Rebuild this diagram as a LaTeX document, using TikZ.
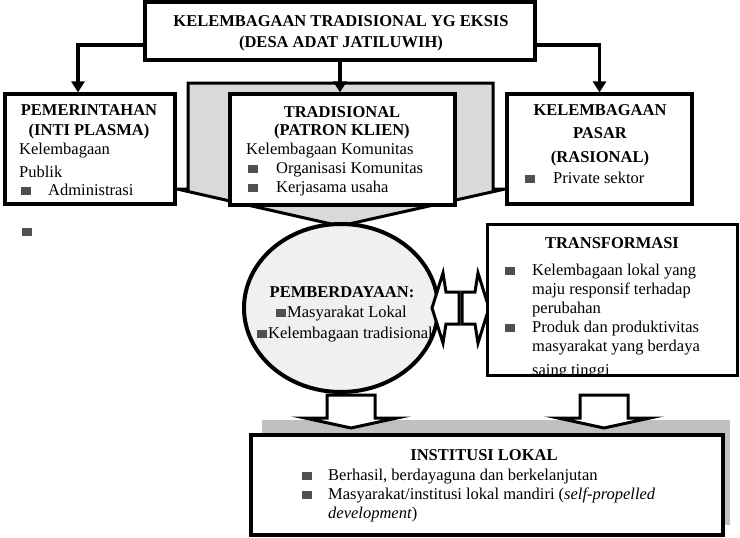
\documentclass[tikz,border=0pt]{standalone}
\usepackage{fontspec}
\setmainfont{Liberation Serif}
\usetikzlibrary{arrows.meta,shapes.geometric}
\definecolor{funnelgray}{HTML}{D9D9D9}
\definecolor{ellfill}{HTML}{F0F0F0}
\definecolor{shadowgray}{HTML}{C0C0C0}
\definecolor{bulletgray}{HTML}{505050}
\newcommand\blt{\textcolor{bulletgray}{\rule{9.5pt}{8pt}}}
\newcommand\Tl[4]{\node[txt,anchor=base west] (#1) at (#2,#3) {#4};}
\newcommand\Tc[4]{\node[txt,anchor=base] (#1) at (#2,#3) {#4};}
\begin{document}
\begin{tikzpicture}[x=1pt,y=-1pt,
  txt/.style={inner sep=0pt,font=\fontsize{16.5}{19}\selectfont},
  box/.style={draw,line width=3.2pt,fill=white,rectangle,inner sep=0pt},
  conn/.style={line width=3.5pt,-{Triangle[width=13pt,length=11pt]}},
  blockarrow/.style={draw,line width=3pt,fill=white,line join=miter}]
\useasboundingbox (0,0) rectangle (740,538);

% funnel shape behind the three boxes
\draw[line width=3pt,fill=funnelgray,line join=miter]
  (177,189) -- (188,189) -- (188,83) -- (493,83) -- (493,189) -- (505,189) -- (340,226) -- cycle;

% boxes
\node[box,minimum width=170pt,minimum height=110pt] (pem) at (90,149) {};
\node[box,minimum width=225pt,minimum height=111pt] (trad) at (342.5,149.5) {};
\node[box,minimum width=185pt,minimum height=110pt] (pasar) at (599.5,149) {};
\node[box,line width=4pt,minimum width=390pt,minimum height=58pt] (top) at (340,31) {};

% connectors
\draw[conn] ([yshift=-14pt]top.west) -| ([xshift=-12pt]pem.north);
\draw[conn] (top.south) -- (top.south |- trad.north);
\draw[conn] ([yshift=-14pt]top.east) -| (pasar.north);

% texts of top box
\Tc{t1}{341}{27}{\bfseries KELEMBAGAAN TRADISIONAL YG EKSIS}
\Tc{t2}{341}{47}{\bfseries (DESA ADAT JATILUWIH)}

% pemerintahan
\Tc{p1}{89}{115}{\bfseries PEMERINTAHAN}
\Tc{p2}{89}{135}{\bfseries (INTI PLASMA)}
\Tl{p3}{19}{154}{Kelembagaan}
\Tl{p4}{19}{177}{Publik}
\Tl{p5b}{21}{195}{\blt}
\Tl{p5}{48}{195}{Administrasi}
\Tl{sb}{22}{236}{\blt}

% tradisional
\Tc{r1}{342}{117}{\bfseries TRADISIONAL}
\Tc{r2}{342}{135}{\bfseries (PATRON KLIEN)}
\Tl{r3}{246}{154}{Kelembagaan Komunitas}
\Tl{r4b}{248}{173}{\blt}
\Tl{r4}{276}{173}{Organisasi Komunitas}
\Tl{r5b}{248}{192}{\blt}
\Tl{r5}{276}{192}{Kerjasama usaha}

% pasar
\Tc{s1}{600}{115}{\bfseries KELEMBAGAAN}
\Tc{s2}{600}{138}{\bfseries PASAR}
\Tc{s3}{600}{162}{\bfseries (RASIONAL)}
\Tl{s4b}{525}{183}{\blt}
\Tl{s4}{553}{183}{Private sektor}

% pemberdayaan ellipse
\node[draw,line width=4pt,fill=ellfill,ellipse,minimum width=194pt,minimum height=168pt] (pemb) at (341,308) {};
\Tc{e1}{342}{297}{\bfseries PEMBERDAYAAN:}
\Tl{e2b}{276}{317}{\blt}
\Tl{e2}{287}{317}{Masyarakat Lokal}
\Tl{e3b}{257}{338}{\blt}
\Tl{e3}{268}{338}{Kelembagaan tradisional}

% double block arrow
\draw[blockarrow] (432,308) -- (443,273) -- (446,292) -- (459,292) -- (459,324) -- (446,324) -- (443,343) -- cycle;
\draw[blockarrow] (489,308) -- (478,273) -- (475,292) -- (462,292) -- (462,324) -- (475,324) -- (478,343) -- cycle;

% transformasi
\node[box,line width=3pt,minimum width=250pt,minimum height=151pt] (transf) at (612,299.5) {};
\Tc{x1}{612}{248}{\bfseries TRANSFORMASI}
\Tl{x2b}{505}{275}{\blt}
\Tl{x2}{532}{275}{Kelembagaan lokal yang}
\Tl{x3}{532}{294}{maju responsif terhadap}
\Tl{x4}{532}{313}{perubahan}
\Tl{x5b}{505}{332}{\blt}
\Tl{x5}{532}{332}{Produk dan produktivitas}
\Tl{x6}{532}{351}{masyarakat yang berdaya}
\begin{scope}
\clip (489,226) rectangle (735,373);
\Tl{x7}{532}{375}{saing tinggi}
\end{scope}

% institusi lokal
\fill[shadowgray] (262,420) rectangle (730,525);
\draw[blockarrow] (327,395) -- (375,395) -- (375,418) -- (397,418) -- (351,428) -- (305,418) -- (327,418) -- cycle;
\draw[blockarrow] (580,395) -- (628,395) -- (628,418) -- (650,418) -- (604,428) -- (558,418) -- (580,418) -- cycle;
\node[box,line width=4pt,minimum width=472pt,minimum height=100pt] (inst) at (487,485) {};
\Tc{i1}{484}{460}{\bfseries INSTITUSI LOKAL}
\Tl{i2b}{302}{480}{\blt}
\Tl{i2}{328}{480}{Berhasil, berdayaguna dan berkelanjutan}
\Tl{i3b}{302}{499}{\blt}
\Tl{i3}{328}{499}{Masyarakat/institusi lokal mandiri (\textit{self-propelled}}
\Tl{i4}{328}{518}{\textit{development})}
\end{tikzpicture}
\end{document}
